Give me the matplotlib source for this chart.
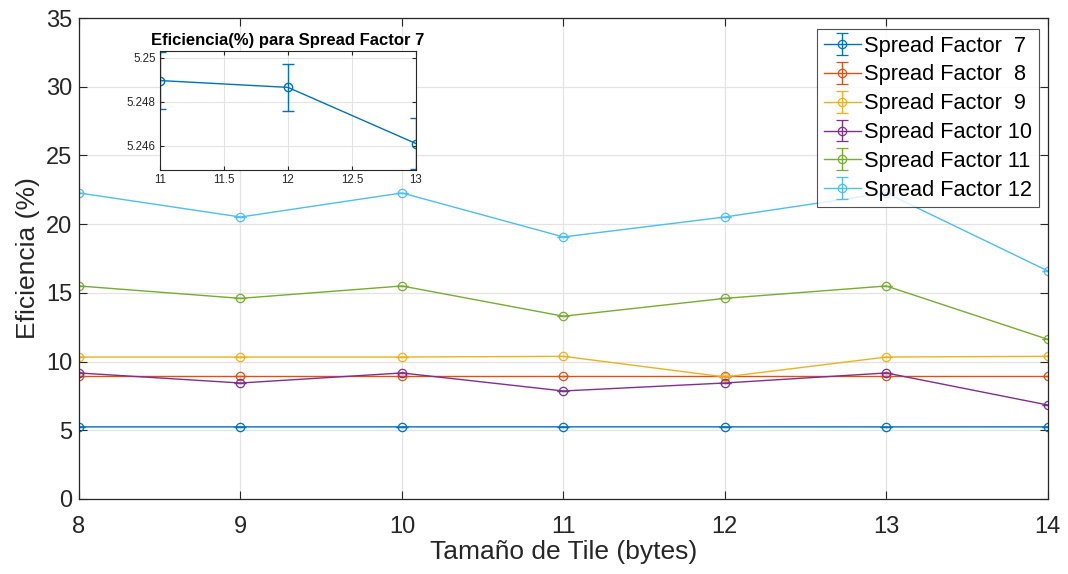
import numpy as np
import matplotlib.pyplot as plt

plt.rcParams['font.family'] = ['Liberation Sans', 'DejaVu Sans']

# Datos
tamanos = [8, 9, 10, 11, 12, 13, 14]
sf7 = [5.2485, 5.2485, 5.2485, 5.24896, 5.24865, 5.2461, 5.2485]
sf7_err = [0.0012, 0.0012, 0.0012, 0.0013, 0.00105, 0.00115, 0.0012]
sf8 = [8.95, 8.95, 8.95, 8.95, 8.95, 8.95, 8.95]
sf9 = [10.33, 10.33, 10.33, 10.38, 8.88, 10.33, 10.38]
sf10 = [9.17, 8.44, 9.17, 7.86, 8.44, 9.17, 6.84]
sf11 = [15.5, 14.6, 15.5, 13.3, 14.6, 15.5, 11.62]
sf12 = [22.27, 20.52, 22.27, 19.07, 20.52, 22.27, 16.6]
etiquetas = ['Spread Factor  7', 'Spread Factor  8', 'Spread Factor  9',
             'Spread Factor 10', 'Spread Factor 11', 'Spread Factor 12']

# Colores por defecto de MATLAB
colores = ['#0072BD', '#D95319', '#EDB120', '#7E2F8E', '#77AC30', '#4DBEEE']
eje_color = '#262626'

series = [sf7, sf8, sf9, sf10, sf11, sf12]
errores = [sf7_err] + [[0.01] * len(tamanos)] * 5

fig = plt.figure(figsize=(10.68, 5.74), dpi=100)
ax = fig.add_axes([0.074, 0.1307, 0.907, 0.8379])

for y, e, c, lab in zip(series, errores, colores, etiquetas):
    ax.errorbar(tamanos, y, yerr=e, color=c, marker='o', markersize=6,
                markerfacecolor='none', markeredgewidth=0.9, linewidth=1.0,
                capsize=4, label=lab)

ax.set_xlim(8, 14)
ax.set_ylim(0, 35)
ax.set_xticks(tamanos)
ax.set_yticks(np.arange(0, 36, 5))
ax.grid(True, color='#e3e3e3', linewidth=0.9)
ax.set_axisbelow(True)
ax.tick_params(direction='in', length=6, labelsize=17, colors=eje_color,
               top=True, right=True, pad=5)
ax.tick_params(axis='x', pad=12)
for s in ax.spines.values():
    s.set_color(eje_color)
    s.set_linewidth(0.9)
ax.set_xlabel('Tamaño de Tile (bytes)', fontsize=19, color=eje_color, labelpad=2)
ax.set_ylabel('Eficiencia (%)', fontsize=19, color=eje_color, labelpad=4)

leg = ax.legend(loc='upper right', bbox_to_anchor=(0.9907, 0.977), fontsize=15.7,
                frameon=True, fancybox=False, edgecolor=eje_color,
                borderpad=0.3, labelspacing=0.36, handlelength=1.7,
                handletextpad=0.15, borderaxespad=0)
leg.get_frame().set_linewidth(0.8)

# Ventana de detalle para SF7
axin = fig.add_axes([0.1498, 0.7038, 0.2397, 0.2073])
axin.errorbar(tamanos[3:6], sf7[3:6], yerr=sf7_err[3:6], color=colores[0],
              marker='o', markersize=6, markerfacecolor='none',
              markeredgewidth=1.0, linewidth=1.0, capsize=4)
axin.set_xlim(11, 13)
axin.set_ylim(5.2449, 5.2503)
axin.set_xticks([11, 11.5, 12, 12.5, 13])
axin.set_xticklabels(['11', '11.5', '12', '12.5', '13'])
axin.set_yticks([5.246, 5.248, 5.25])
axin.set_yticklabels(['5.246', '5.248', '5.25'])
axin.grid(True, color='#e3e3e3', linewidth=0.8)
axin.tick_params(direction='in', length=3, labelsize=8.3, colors=eje_color,
                 top=True, right=True, pad=3)
for s in axin.spines.values():
    s.set_color(eje_color)
    s.set_linewidth(0.8)
axin.set_title('Eficiencia(%) para Spread Factor 7', fontsize=12,
               fontweight='bold', pad=4)

fig.savefig('out.png', dpi=100)
